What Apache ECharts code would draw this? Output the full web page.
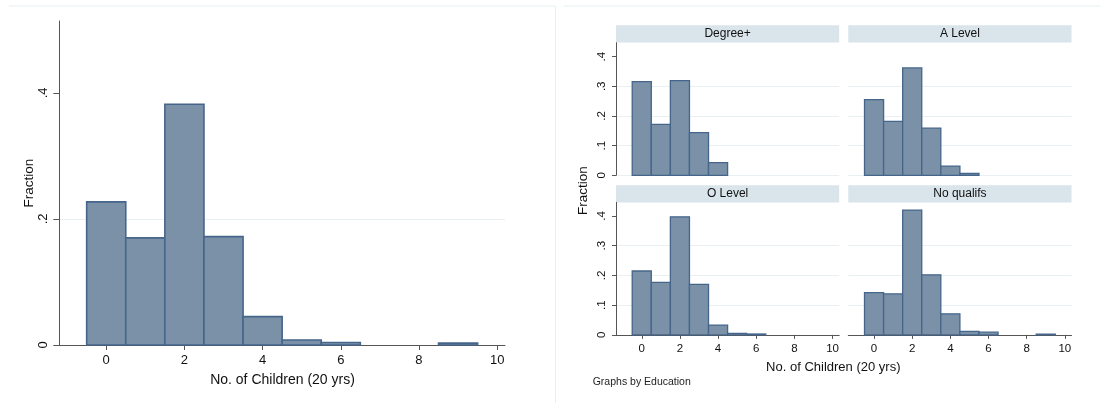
<!DOCTYPE html>
<html>
<head>
<meta charset="utf-8">
<script src="https://cdn.jsdelivr.net/npm/echarts@6/dist/echarts.min.js"></script>
<style>
  html, body { margin: 0; padding: 0; background: #ffffff; }
  #chart { width: 1103px; height: 403px; }
</style>
</head>
<body>
<div id="chart"></div>
<script>
// ---- data ----
const bins = [0, 1, 2, 3, 4, 5, 6, 7, 8, 9];
const overall = [0.227, 0.170, 0.382, 0.172, 0.045, 0.008, 0.004, 0, 0, 0.003];
const degree  = [0.316, 0.172, 0.319, 0.144, 0.043, 0, 0, 0, 0, 0];
const aLevel  = [0.255, 0.182, 0.362, 0.159, 0.031, 0.006, 0, 0, 0, 0];
const oLevel  = [0.215, 0.177, 0.397, 0.170, 0.033, 0.005, 0.003, 0, 0, 0];
const noQual  = [0.142, 0.138, 0.420, 0.202, 0.071, 0.012, 0.009, 0, 0, 0.0025];
const facetNames = ['Degree+', 'A Level', 'O Level', 'No qualifs'];
const xTicks = [0, 2, 4, 6, 8, 10];
const leftYTicks = [0, 0.2, 0.4];
const facetYTicks = [0, 0.1, 0.2, 0.3, 0.4];
const xTitle = 'No. of Children (20 yrs)';
const yTitle = 'Fraction';
const noteText = 'Graphs by Education';

// ---- styles ----
const FONT = '"Liberation Sans", Arial, sans-serif';
const FILL = '#7a91a8';
const STROKE = '#46658a';
const GRID_COLOR = '#e9f0f3';
const AXIS_COLOR = '#555555';
const HEADER_FILL = '#d9e4eb';
const FRAME = '#e8eff2';

const fmtY = v => (v === 0 ? '0' : String(+v.toFixed(2)).replace(/^0\./, '.'));

function histSeries(values, idx, lw) {
  return {
    type: 'custom',
    xAxisIndex: idx,
    yAxisIndex: idx,
    data: bins.map((b, i) => [b, values[i]]),
    renderItem: function (params, api) {
      const x = api.value(0), y = api.value(1);
      if (!y) return null;
      const p0 = api.coord([x - 0.5, 0]);
      const p1 = api.coord([x + 0.5, y]);
      return {
        type: 'rect',
        shape: { x: p0[0], y: p1[1], width: p1[0] - p0[0], height: p0[1] - p1[1] },
        style: { fill: FILL, stroke: STROKE, lineWidth: lw }
      };
    },
    silent: true,
    animation: false
  };
}

// grids: 0 = overall, 1..4 facets
const fL = 616, fR = 848.3, fW = 223.2, fT1 = 42.7, fT2 = 202.3, fH = 132.6;
const grids = [
  { left: 59.3, top: 21, width: 445.7, height: 324 },
  { left: fL, top: fT1, width: fW, height: fH },
  { left: fR, top: fT1, width: fW, height: fH },
  { left: fL, top: fT2, width: fW, height: fH },
  { left: fR, top: fT2, width: fW, height: fH }
];

function xAxis(idx, showLabels, fontSize, tickLen, margin, min, max) {
  return {
    type: 'value', gridIndex: idx, min: min, max: max,
    axisLine: { show: showLabels, onZero: false, lineStyle: { color: AXIS_COLOR, width: 1 } },
    axisTick: { show: showLabels, customValues: xTicks, length: tickLen, lineStyle: { color: AXIS_COLOR } },
    axisLabel: { show: showLabels, customValues: xTicks, fontSize: fontSize, fontFamily: FONT, color: '#111', margin: margin },
    splitLine: { show: false }
  };
}
function yAxis(idx, showAxis, ticks, max, fontSize, tickLen, margin) {
  return {
    type: 'value', gridIndex: idx, min: 0, max: max,
    axisLine: { show: showAxis, onZero: false, lineStyle: { color: AXIS_COLOR, width: 1 } },
    axisTick: { show: showAxis, customValues: ticks, length: tickLen, lineStyle: { color: AXIS_COLOR } },
    axisLabel: { show: showAxis, customValues: ticks, rotate: 90, fontSize: fontSize, fontFamily: FONT, color: '#111', margin: margin, formatter: fmtY },
    splitLine: { show: true, showMaxLine: false, lineStyle: { color: GRID_COLOR, width: 1.2 } }
  };
}

const xAxes = [
  xAxis(0, true, 13, 5, 9, -1.2, 10.2),
  xAxis(1, false, 11.5, 4, 8, -1.35, 10.35),
  xAxis(2, false, 11.5, 4, 8, -1.35, 10.35),
  xAxis(3, true, 11.5, 4, 8, -1.35, 10.35),
  xAxis(4, true, 11.5, 4, 8, -1.35, 10.35)
];
const yAxes = [
  yAxis(0, true, leftYTicks, 0.514, 13, 6, 9),
  yAxis(1, true, facetYTicks, 0.447, 11.5, 4, 8),
  yAxis(2, false, facetYTicks, 0.447, 11.5, 4, 8),
  yAxis(3, true, facetYTicks, 0.446, 11.5, 4, 8),
  yAxis(4, false, facetYTicks, 0.446, 11.5, 4, 8)
];

const headerPos = [
  { x: fL, y: 25.3 }, { x: fR, y: 25.3 }, { x: fL, y: 185.3 }, { x: fR, y: 185.3 }
];
const graphics = [];
// frame lines
graphics.push({ type: 'line', shape: { x1: 9, y1: 6, x2: 555, y2: 6 }, style: { stroke: FRAME, lineWidth: 1 }, silent: true });
graphics.push({ type: 'line', shape: { x1: 555.5, y1: 6, x2: 555.5, y2: 403 }, style: { stroke: FRAME, lineWidth: 1 }, silent: true });
graphics.push({ type: 'line', shape: { x1: 564, y1: 6, x2: 1100, y2: 6 }, style: { stroke: FRAME, lineWidth: 1 }, silent: true });
headerPos.forEach((p, i) => {
  graphics.push({ type: 'rect', shape: { x: p.x, y: p.y, width: fW, height: 17.2 }, style: { fill: HEADER_FILL }, silent: true });
  graphics.push({ type: 'text', x: p.x + fW / 2, y: p.y + 8.8, style: { text: facetNames[i], fill: '#111', font: '12px ' + FONT, align: 'center', verticalAlign: 'middle' }, silent: true });
});
// axis titles
graphics.push({ type: 'text', x: 29, y: 183, rotation: Math.PI / 2, style: { text: yTitle, fill: '#111', font: '13.5px ' + FONT, align: 'center', verticalAlign: 'middle' }, silent: true });
graphics.push({ type: 'text', x: 282.5, y: 380.5, style: { text: xTitle, fill: '#111', font: '14px ' + FONT, align: 'center', verticalAlign: 'middle' }, silent: true });
graphics.push({ type: 'text', x: 583, y: 190.5, rotation: Math.PI / 2, style: { text: yTitle, fill: '#111', font: '13.5px ' + FONT, align: 'center', verticalAlign: 'middle' }, silent: true });
graphics.push({ type: 'text', x: 833.3, y: 367, style: { text: xTitle, fill: '#111', font: '13px ' + FONT, align: 'center', verticalAlign: 'middle' }, silent: true });
graphics.push({ type: 'text', x: 592.7, y: 382, style: { text: noteText, fill: '#222', font: '10.5px ' + FONT, align: 'left', verticalAlign: 'middle' }, silent: true });

const chart = echarts.init(document.getElementById('chart'), null, { renderer: 'canvas' });
chart.setOption({
  backgroundColor: '#ffffff',
  animation: false,
  grid: grids,
  xAxis: xAxes,
  yAxis: yAxes,
  series: [
    histSeries(overall, 0, 1.6),
    histSeries(degree, 1, 1.3),
    histSeries(aLevel, 2, 1.3),
    histSeries(oLevel, 3, 1.3),
    histSeries(noQual, 4, 1.3)
  ],
  graphic: graphics
});
</script>
</body>
</html>
